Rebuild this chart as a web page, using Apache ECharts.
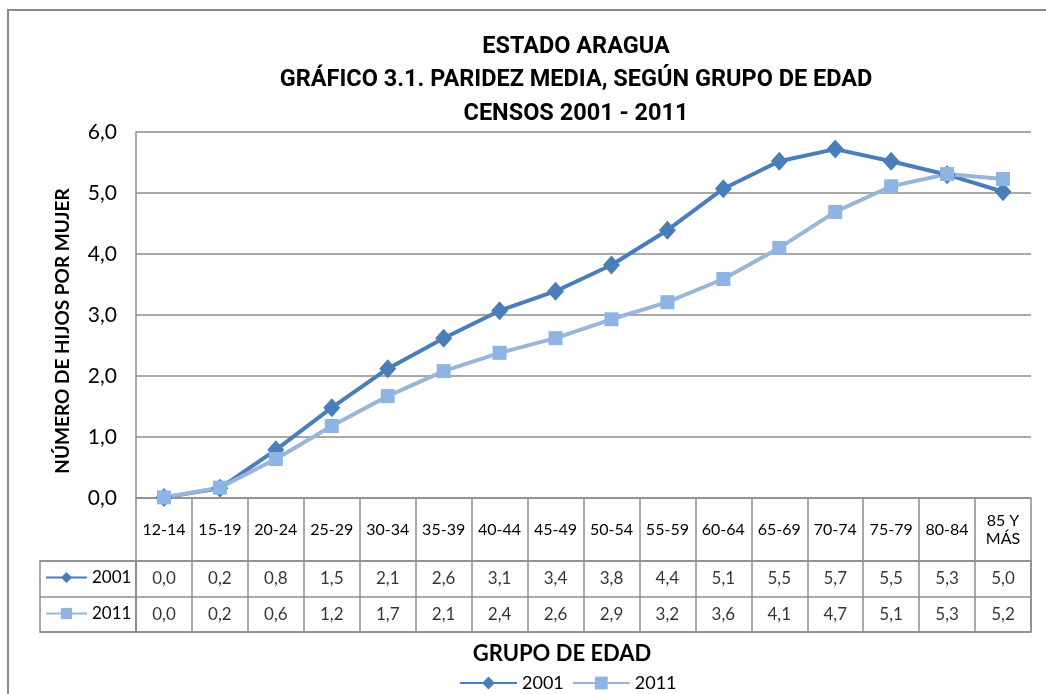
<!DOCTYPE html>
<html>
<head>
<meta charset="utf-8">
<script src="https://cdn.jsdelivr.net/npm/echarts@6/dist/echarts.min.js"></script>
<style>
  html, body { margin: 0; padding: 0; background: #fff; }
  #chart { width: 1046px; height: 694px; }
</style>
</head>
<body>
<div id="chart"></div>
<script>
// grupos de edad (eje X / encabezado de la tabla)
const grupos = ["12-14", "15-19", "20-24", "25-29", "30-34", "35-39", "40-44", "45-49",
  "50-54", "55-59", "60-64", "65-69", "70-74", "75-79", "80-84", "85 Y\nMÁS"];
// paridez media por censo
const censo2001 = [0.01, 0.16, 0.79, 1.48, 2.12, 2.62, 3.07, 3.39, 3.82, 4.39, 5.07, 5.52, 5.72, 5.52, 5.3, 5.02];
const censo2011 = [0.01, 0.17, 0.64, 1.18, 1.67, 2.08, 2.38, 2.62, 2.93, 3.21, 3.59, 4.1, 4.69, 5.11, 5.31, 5.23];
const filas = ["2001", "2011"];

const fmt = (v) => v.toFixed(1).replace(".", ",");
const gris = "#8c8c8c";
const fuente = "Lato, 'Open Sans', sans-serif";

const chart = echarts.init(document.getElementById("chart"));

// celdas de la tabla de datos
const celdas = [];
grupos.forEach((g, i) => {
  celdas.push([i, "2001", censo2001[i]]);
  celdas.push([i, "2011", censo2011[i]]);
});

chart.setOption({
  backgroundColor: "#fff",
  animation: false,
  title: [
    {
      text: "ESTADO ARAGUA\nGRÁFICO 3.1. PARIDEZ MEDIA, SEGÚN GRUPO DE EDAD\nCENSOS 2001 - 2011",
      left: 576,
      top: 30,
      padding: 0,
      textAlign: "center",
      textStyle: {
        fontFamily: "Roboto, sans-serif",
        fontSize: 23.5,
        fontWeight: "bold",
        lineHeight: 33.5,
        color: "#000",
      },
    },
    {
      text: "GRUPO DE EDAD",
      left: 562,
      top: 643,
      padding: 0,
      textAlign: "center",
      textStyle: { fontFamily: fuente, fontSize: 22, fontWeight: "bold", color: "#000" },
    },
  ],
  legend: [
    {
      data: ["2001", "2011"],
      left: 459,
      top: 674,
      padding: 0,
      itemWidth: 57,
      itemHeight: 16,
      itemGap: 8,
      selectedMode: false,
      textStyle: { fontFamily: fuente, fontSize: 18, color: "#000" },
    },
    {
      data: ["2001"],
      left: 45,
      top: 569,
      padding: 0,
      itemWidth: 41,
      itemHeight: 14,
      selectedMode: false,
      textStyle: { fontFamily: fuente, fontSize: 17, color: "#000" },
    },
    {
      data: ["2011"],
      left: 45,
      top: 605,
      padding: 0,
      itemWidth: 41,
      itemHeight: 14,
      selectedMode: false,
      textStyle: { fontFamily: fuente, fontSize: 17, color: "#000" },
    },
  ],
  grid: [
    { left: 136, right: 15, top: 132, height: 366 },
    { left: 136, right: 15, top: 561, height: 71, show: true, borderColor: gris, borderWidth: 1.5 },
    { left: 40, width: 96, top: 561, height: 71, show: true, borderColor: gris, borderWidth: 1.5 },
  ],
  xAxis: [
    {
      type: "category",
      gridIndex: 0,
      data: grupos,
      boundaryGap: true,
      axisLine: { lineStyle: { color: gris, width: 1.5 } },
      axisTick: { show: true, interval: 0, length: 63, lineStyle: { color: gris, width: 1.5 } },
      axisLabel: {
        interval: 0,
        margin: 32,
        verticalAlign: "middle",
        fontFamily: fuente,
        fontSize: 16,
        lineHeight: 18,
        color: "#000",
      },
    },
    {
      type: "category",
      gridIndex: 1,
      data: grupos,
      boundaryGap: true,
      axisLine: { show: false },
      axisTick: { show: false },
      axisLabel: { show: false },
      splitLine: { show: true, interval: 0, lineStyle: { color: gris, width: 1.5 } },
    },
    {
      type: "value",
      gridIndex: 2,
      axisLine: { show: false },
      axisTick: { show: false },
      axisLabel: { show: false },
      splitLine: { show: false },
    },
  ],
  yAxis: [
    {
      type: "value",
      gridIndex: 0,
      min: 0,
      max: 6,
      interval: 1,
      axisLine: { show: true, lineStyle: { color: gris, width: 1.5 } },
      axisTick: { show: false },
      axisLabel: { formatter: fmt, margin: 19, fontFamily: fuente, fontSize: 21, color: "#000" },
      splitLine: { lineStyle: { color: gris, width: 1.5 } },
    },
    {
      type: "category",
      gridIndex: 1,
      data: filas,
      inverse: true,
      axisLine: { show: false },
      axisTick: { show: false },
      axisLabel: { show: false },
      splitLine: { show: true, lineStyle: { color: gris, width: 1.5 } },
    },
    {
      type: "category",
      gridIndex: 2,
      data: filas,
      inverse: true,
      axisLine: { show: false },
      axisTick: { show: false },
      axisLabel: { show: false },
      splitLine: { show: true, lineStyle: { color: gris, width: 1.5 } },
    },
  ],
  graphic: [
    {
      type: "rect",
      shape: { x: 8, y: 10, width: 1100, height: 800 },
      style: { fill: "none", stroke: "#8a8a8a", lineWidth: 2 },
      silent: true,
    },
    {
      type: "text",
      x: 63,
      y: 331,
      rotation: Math.PI / 2,
      style: {
        text: "NÚMERO DE HIJOS POR MUJER",
        font: "bold 19px " + fuente,
        fill: "#000",
        align: "center",
        verticalAlign: "middle",
      },
      silent: true,
    },
  ],
  series: [
    {
      name: "2001",
      type: "line",
      xAxisIndex: 0,
      yAxisIndex: 0,
      data: censo2001,
      symbol: "diamond",
      symbolSize: [17, 19],
      lineStyle: { color: "#4A7EBB", width: 4 },
      itemStyle: { color: "#4A7EBB" },
    },
    {
      name: "2011",
      type: "line",
      xAxisIndex: 0,
      yAxisIndex: 0,
      data: censo2011,
      symbol: "rect",
      symbolSize: 14,
      lineStyle: { color: "#98B6DA", width: 4 },
      itemStyle: { color: "#8EB4E3" },
    },
    {
      name: "tabla",
      type: "scatter",
      xAxisIndex: 1,
      yAxisIndex: 1,
      data: celdas,
      symbol: "rect",
      symbolSize: 1,
      silent: true,
      itemStyle: { color: "rgba(0,0,0,0)" },
      label: {
        show: true,
        position: "inside",
        formatter: (p) => fmt(p.value[2]),
        fontFamily: fuente,
        fontSize: 17,
        color: "#000",
      },
    },
  ],
});
</script>
</body>
</html>
